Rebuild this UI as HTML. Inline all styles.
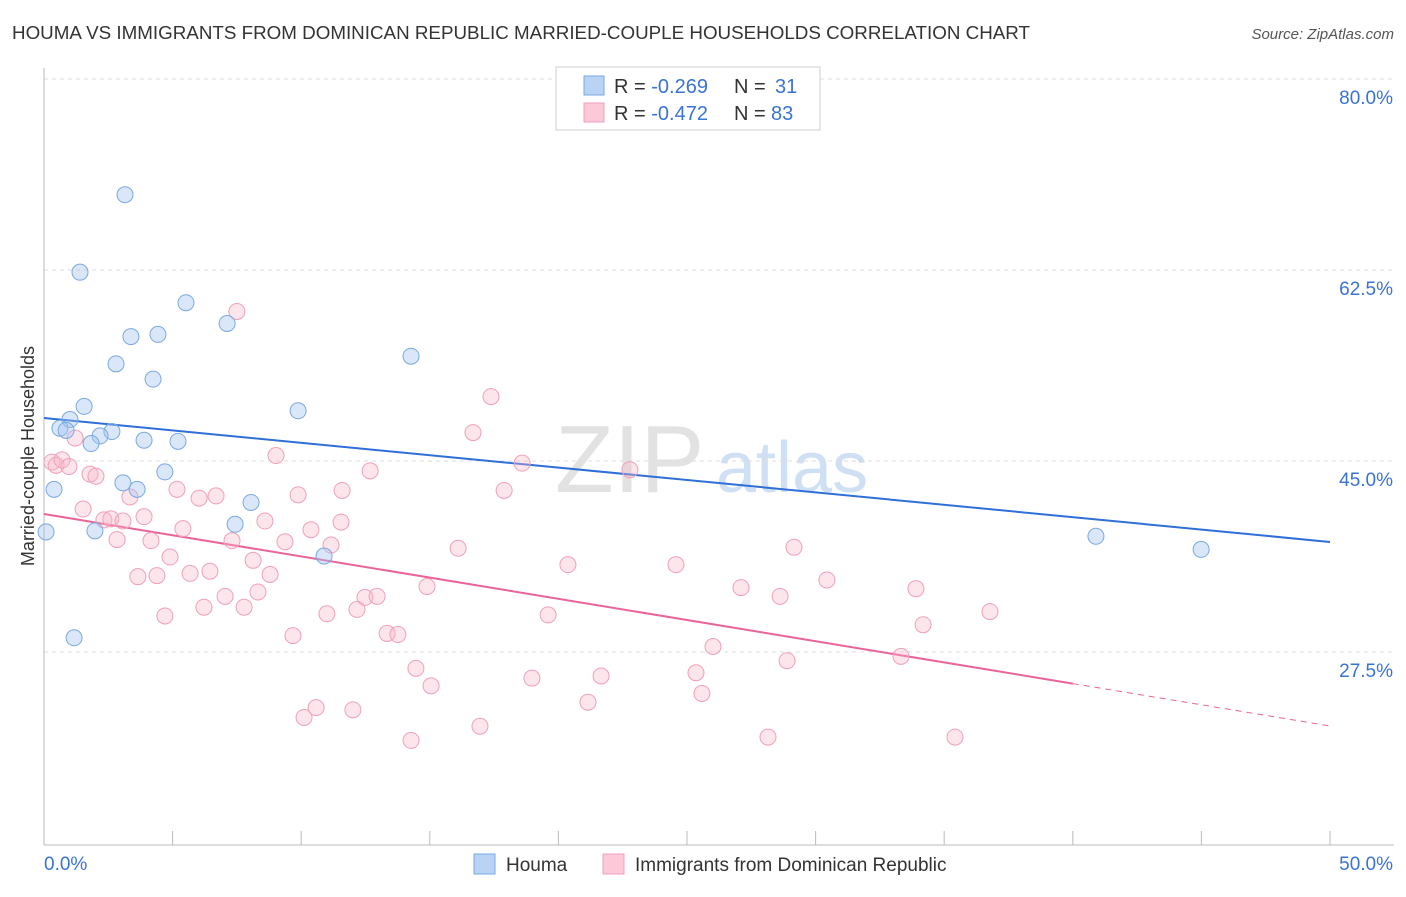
<!DOCTYPE html>
<html><head><meta charset="utf-8">
<style>
html,body{margin:0;padding:0;background:#fff;}
body{width:1406px;height:892px;overflow:hidden;font-family:"Liberation Sans",sans-serif;}
svg text{font-family:"Liberation Sans",sans-serif;}
</style></head>
<body>
<svg id="chart" width="1406" height="892" viewBox="0 0 1406 892" xmlns="http://www.w3.org/2000/svg">
<text x="12" y="39" font-size="18" fill="#333" textLength="1018" lengthAdjust="spacingAndGlyphs">HOUMA VS IMMIGRANTS FROM DOMINICAN REPUBLIC MARRIED-COUPLE HOUSEHOLDS CORRELATION CHART</text>
<text x="1394" y="39" font-size="15" fill="#555" text-anchor="end" font-style="italic">Source: ZipAtlas.com</text>
<g id="watermark">
<text x="555" y="492" font-size="96" fill="#e2e2e2" font-family="Liberation Serif,serif">ZIP</text>
<text x="716" y="492" font-size="72" fill="#cfe0f4">atlas</text>
</g>
<g id="grid"></g>
<g id="axes"></g>
<g id="lines"></g>
<g id="points"></g>
<text transform="translate(34,456) rotate(-90)" font-size="18" fill="#333" text-anchor="middle">Married-couple Households</text>
<g>
<rect x="556" y="67" width="264" height="63" fill="#fff" stroke="#ccc"/>
<rect x="584" y="76" width="20" height="19" fill="#b9d3f4" stroke="#7aa8e4"/>
<rect x="584" y="103" width="20" height="19" fill="#fbc9d7" stroke="#f0a0b8"/>
<text x="614" y="93" font-size="20" fill="#333">R = <tspan fill="#3a73d6">-0.269</tspan></text>
<text x="734" y="93" font-size="20" fill="#333">N = </text>
<text x="775" y="93" font-size="20" fill="#3a73d6">31</text>
<text x="614" y="120" font-size="20" fill="#333">R = <tspan fill="#3a73d6">-0.472</tspan></text>
<text x="734" y="120" font-size="20" fill="#333">N = </text>
<text x="771" y="120" font-size="20" fill="#3a73d6">83</text>
</g>
<g>
<rect x="474" y="854" width="21" height="20" fill="#b9d3f4" stroke="#7aa8e4"/>
<text x="506" y="871" font-size="19" fill="#333">Houma</text>
<rect x="603" y="854" width="21" height="20" fill="#fbc9d7" stroke="#f0a0b8"/>
<text x="635" y="871" font-size="19" fill="#333">Immigrants from Dominican Republic</text>
</g>
</svg>
<script>
const houmaX=[3.15,1.4,5.52,3.38,4.43,7.12,2.8,4.24,14.27,9.88,1.56,1.01,0.62,0.86,2.64,2.18,3.89,5.21,1.83,4.7,0.39,3.07,3.62,8.05,7.43,1.98,0.08,10.89,40.9,44.99,1.17];
const houmaY=[69.4,62.3,59.5,56.4,56.6,57.6,53.9,52.5,54.6,49.6,50.0,48.8,48.0,47.8,47.7,47.3,46.9,46.8,46.6,44.0,42.4,43.0,42.4,41.2,39.2,38.6,38.5,36.3,38.1,36.9,28.8];
const domX=[0.31,0.47,0.7,0.97,1.21,1.79,2.02,3.34,1.52,2.33,2.6,3.07,2.84,3.89,4.16,3.65,4.39,4.7,4.9,5.4,5.17,5.68,6.45,6.03,6.69,6.22,7.04,7.31,7.5,7.78,8.13,8.32,8.59,8.79,9.02,9.37,9.68,9.88,10.38,10.11,10.58,11.0,11.16,11.59,11.55,12.01,12.17,12.48,12.95,12.68,13.34,13.76,14.46,14.89,15.05,14.27,16.1,16.68,16.95,17.38,17.89,18.59,18.97,19.6,20.37,21.15,21.66,22.78,24.57,25.35,25.58,26.01,27.1,28.15,28.62,28.89,29.16,30.44,33.32,33.9,34.18,35.42,36.78];
const domY=[44.9,44.6,45.1,44.5,47.1,43.8,43.6,41.7,40.6,39.6,39.7,39.5,37.8,39.9,37.7,34.4,34.5,30.8,36.2,38.8,42.4,34.7,34.9,41.6,41.8,31.6,32.6,37.7,58.7,31.6,35.9,33.0,39.5,34.6,45.5,37.6,29.0,41.9,38.7,21.5,22.4,31.0,37.3,42.3,39.4,22.2,31.4,32.5,32.6,44.1,29.2,29.1,26.0,33.5,24.4,19.4,37.0,47.6,20.7,50.9,42.3,44.8,25.1,30.9,35.5,22.9,25.3,44.2,35.5,25.6,23.7,28.0,33.4,19.7,32.6,26.7,37.1,34.1,27.1,33.3,30.0,19.7,31.2];
const yTicks=[80,62.5,45,27.5];
const yTickLabels=["80.0%","62.5%","45.0%","27.5%"];
const xTicks=[0,5,10,15,20,25,30,35,40,45,50];
const xTickLabels=["0.0%","50.0%"];
const houmaTrend=[48.94,37.58];
const domTrend=[40.14,20.72];
const domSolidEnd=40;

const NS="http://www.w3.org/2000/svg";
const sx=v=>44+v*25.72;
const sy=v=>79+(80-v)*10.914;
function mk(tag,attrs,parent){const e=document.createElementNS(NS,tag);for(const k in attrs)e.setAttribute(k,attrs[k]);parent.appendChild(e);return e;}
const grid=document.getElementById('grid'),axes=document.getElementById('axes'),lines=document.getElementById('lines'),pts=document.getElementById('points');
yTicks.forEach((t,i)=>{
  const l=mk('line',{x1:44,x2:1394,y1:sy(t),y2:sy(t),stroke:'#ddd','stroke-dasharray':'4,4'},grid);
  
  
  const tx=mk('text',{x:1393,y:sy(t)+25,'font-size':19,fill:'#3a73d6','text-anchor':'end'},axes);
  tx.textContent=yTickLabels[i];
  
  
});
mk('line',{x1:44,x2:44,y1:68,y2:845,stroke:'#bbb'},axes);
mk('line',{x1:44,x2:1394,y1:845,y2:845,stroke:'#bbb'},axes);
xTicks.forEach(t=>{
  const l=mk('line',{x1:sx(t),x2:sx(t),y1:831,y2:845,stroke:'#bbb'},axes);
  
  
});
const xl0=mk('text',{x:44,y:870,'font-size':19,fill:'#3a73d6'},axes);xl0.textContent=xTickLabels[0];


const xl1=mk('text',{x:1393,y:870,'font-size':19,fill:'#3a73d6','text-anchor':'end'},axes);xl1.textContent=xTickLabels[1];



domX.forEach((x,i)=>{
  const c=mk('circle',{cx:sx(x),cy:sy(domY[i]),r:8,fill:'rgba(248,180,200,0.35)',stroke:'#f0a0b8','stroke-width':1},pts);
  
  
});
houmaX.forEach((x,i)=>{
  const c=mk('circle',{cx:sx(x),cy:sy(houmaY[i]),r:8,fill:'rgba(160,196,240,0.4)',stroke:'#7aa8e4','stroke-width':1},pts);
  
  
});
const hb=mk('line',{x1:sx(0),y1:sy(houmaTrend[0]),x2:sx(50),y2:sy(houmaTrend[1]),stroke:'#2f6fd8','stroke-width':2},lines);


const dAt=x=>domTrend[0]+(domTrend[1]-domTrend[0])*x/50;
const ds=mk('line',{x1:sx(0),y1:sy(dAt(0)),x2:sx(domSolidEnd),y2:sy(dAt(domSolidEnd)),stroke:'#e8649a','stroke-width':2},lines);


const dd=mk('line',{x1:sx(domSolidEnd),y1:sy(dAt(domSolidEnd)),x2:sx(50),y2:sy(dAt(50)),stroke:'#e8649a','stroke-width':1,'stroke-dasharray':'6,5'},lines);


</script>
</body></html>
